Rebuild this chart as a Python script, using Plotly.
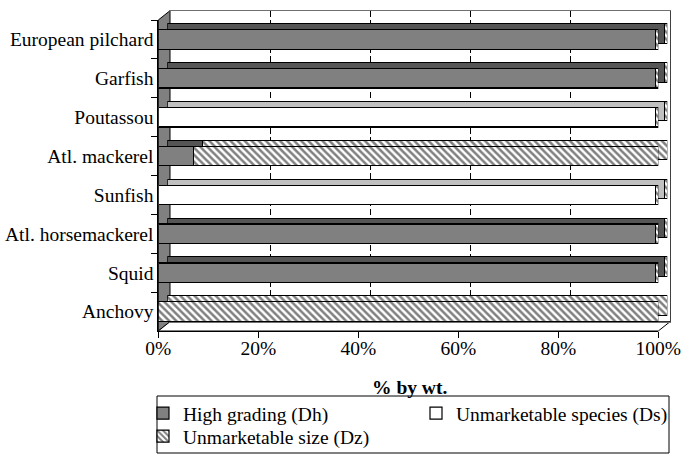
import plotly.graph_objects as go

# ---------------- data ----------------
species = ["European pilchard", "Garfish", "Poutassou", "Atl. mackerel",
           "Sunfish", "Atl. horsemackerel", "Squid", "Anchovy"]
high_grading = [99.5, 99.5, 0, 7, 0, 99.5, 99.5, 0]          # Dh
unmarketable_species = [0, 0, 99.5, 0, 99.5, 0, 0, 0]         # Ds
unmarketable_size = [0.5, 0.5, 0.5, 93, 0.5, 0.5, 0.5, 100]   # Dz
x_tickvals = [0, 20, 40, 60, 80, 100]
x_ticktext = ["0%", "20%", "40%", "60%", "80%", "100%"]
series_names = ["High grading (Dh)", "Unmarketable species (Ds)", "Unmarketable size (Dz)"]

# ---------------- geometry helpers (pixels -> paper) ----------------
W, H = 696, 461
def px(x): return x / W
def py(y): return 1 - y / H

FONT = "Liberation Serif"
FS = 19.5

front = dict(x0=158.3, x1=658.3, ytop=20, ybot=331)
bdx, bdy = 9, 6          # bar depth
wdx, wdy = 11.7, 9.3     # wall depth

hatch = dict(shape="\\", fgcolor="black", bgcolor="white", size=5, solidity=0.5)

fig = go.Figure()

# empty helper trace so the back-wall subplot is a real subplot
fig.add_trace(go.Scatter(x=[None], y=[None], xaxis="x", yaxis="y",
                         showlegend=False, hoverinfo="skip", mode="markers"))

series = [high_grading, unmarketable_species, unmarketable_size]
front_colors = ["#808080", "#ffffff", "#ffffff"]
top_colors = ["#555555", "#c0c0c0", "#ffffff"]
legend_ids = ["legend", "legend2", "legend3"]

# back copies (depth faces) on x2/y2
for i, vals in enumerate(series):
    m = dict(color=top_colors[i], line=dict(color="black", width=1))
    if i == 2:
        m["pattern"] = hatch
    fig.add_trace(go.Bar(y=species, x=vals, orientation="h", name=series_names[i],
                         marker=m, xaxis="x2", yaxis="y2", showlegend=False,
                         hoverinfo="skip"))

# front faces on x3/y3
for i, vals in enumerate(series):
    m = dict(color=front_colors[i], line=dict(color="black", width=1.2))
    if i == 2:
        m["pattern"] = hatch
    fig.add_trace(go.Bar(y=species, x=vals, orientation="h", name=series_names[i],
                         marker=m, xaxis="x3", yaxis="y3", legend=legend_ids[i]))

fig.add_trace(go.Scatter(x=[None], y=[None], xaxis="x4", yaxis="y4",
                         showlegend=False, hoverinfo="skip", mode="markers"))

# walls: left wall & floor (decorative), legend frame
shapes = [
    dict(type="path", xref="paper", yref="paper", layer="below",
         path=f"M {px(front['x0'])} {py(front['ytop'])} L {px(front['x0']+wdx)} {py(front['ytop']-wdy)} "
              f"L {px(front['x0']+wdx)} {py(front['ybot']-wdy)} L {px(front['x0'])} {py(front['ybot'])} Z",
         fillcolor="#808080", line=dict(color="black", width=1)),
    dict(type="path", xref="paper", yref="paper", layer="below",
         path=f"M {px(front['x0'])} {py(front['ybot'])} L {px(front['x0']+wdx)} {py(front['ybot']-wdy)} "
              f"L {px(front['x1']+wdx)} {py(front['ybot']-wdy)} L {px(front['x1'])} {py(front['ybot'])} Z",
         fillcolor="white", line=dict(color="black", width=1)),
    dict(type="rect", xref="paper", yref="paper", layer="above",
         x0=px(157), x1=px(669), y0=py(453), y1=py(396),
         line=dict(color="black", width=1), fillcolor="rgba(0,0,0,0)"),
]

leg_common = dict(orientation="v", xanchor="left", yanchor="top",
                  bgcolor="rgba(0,0,0,0)", borderwidth=0,
                  font=dict(family=FONT, size=FS), itemwidth=30, tracegroupgap=0,
                  traceorder="normal")

axis_font = dict(family=FONT, size=FS)

fig.update_layout(
    width=W, height=H,
    margin=dict(l=0, r=0, t=0, b=0, autoexpand=False),
    paper_bgcolor="white", plot_bgcolor="rgba(0,0,0,0)",
    barmode="stack", bargap=0.5,
    font=dict(family=FONT, size=FS, color="black"),
    shapes=shapes,
    # back wall with gridlines
    xaxis=dict(domain=[px(front['x0']+wdx), px(front['x1']+wdx)], anchor="y",
               range=[0, 100], tickvals=[20, 40, 60, 80], showticklabels=False,
               ticks="", showgrid=True, gridcolor="black", gridwidth=1.3,
               griddash="6px,3px",
               zeroline=False, showline=True, mirror=True, linecolor="#707070",
               linewidth=1),
    yaxis=dict(domain=[py(front['ybot']-wdy), py(front['ytop']-wdy)], anchor="x",
               range=[0, 1], showticklabels=False, showgrid=False, zeroline=False,
               ticks="", showline=True, mirror=True, linecolor="#404040", linewidth=1),
    # bar depth copies
    xaxis2=dict(domain=[px(front['x0']+bdx), px(front['x1']+bdx)], anchor="y2",
                range=[0, 100], visible=False),
    yaxis2=dict(domain=[py(front['ybot']-bdy), py(front['ytop']-bdy)], anchor="x2",
                range=[7.5, -0.5], visible=False, type="category",
                categoryorder="array", categoryarray=species),
    # front faces (tick labels, no tick marks)
    xaxis3=dict(domain=[px(front['x0']), px(front['x1'])], anchor="y3",
                range=[0, 100], tickvals=x_tickvals, ticktext=x_ticktext,
                ticks="", showgrid=False,
                zeroline=False, showline=True, linecolor="black", linewidth=1,
                tickfont=axis_font, automargin=False),
    yaxis3=dict(domain=[py(front['ybot']), py(front['ytop'])], anchor="x3",
                range=[7.5, -0.5], type="category", categoryorder="array",
                categoryarray=species, ticks="outside", ticklen=6, tickcolor="black",
                tickson="boundaries", showgrid=False, zeroline=False, showline=True,
                linecolor="black", linewidth=1, tickfont=axis_font,
                automargin=False),
    # tick marks for the x axis
    xaxis4=dict(domain=[px(front['x0']), px(front['x1'])], anchor="y4",
                range=[0, 100], tickvals=x_tickvals, showticklabels=False,
                ticks="outside", ticklen=6, tickcolor="black", tickwidth=1,
                showgrid=False, zeroline=False, showline=False, automargin=False),
    yaxis4=dict(domain=[py(front['ybot']), py(front['ytop'])], anchor="x4",
                range=[0, 1], showticklabels=False, showgrid=False, zeroline=False,
                ticks="", showline=False),
    legend=dict(x=px(143), y=py(394), **leg_common),
    legend2=dict(x=px(416), y=py(394), **leg_common),
    legend3=dict(x=px(143), y=py(417), **leg_common),
    annotations=[dict(text="<b>% by wt.</b>", xref="paper", yref="paper",
                      x=px(409), y=py(387), xanchor="center", yanchor="middle",
                      showarrow=False, font=axis_font)],
)

fig.write_html("out.html")
